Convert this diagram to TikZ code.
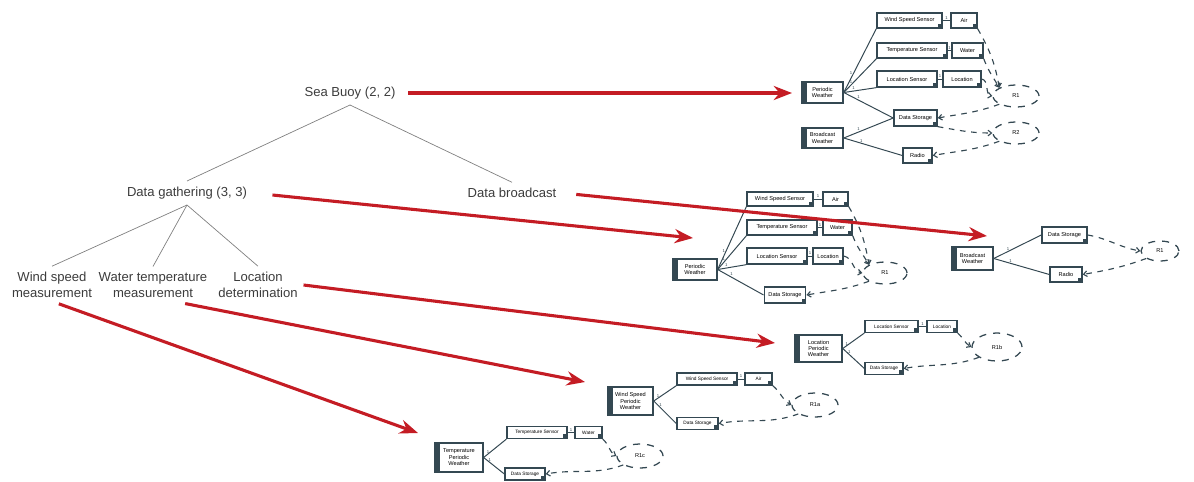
\documentclass[tikz,border=0pt]{standalone}
\usepackage{fontspec}
\setmainfont{Liberation Sans}
\usepackage{xcolor}
\usetikzlibrary{shapes.geometric}
\usetikzlibrary{positioning, arrows.meta}
\definecolor{buoyred}{RGB}{196,28,36}
\definecolor{boxline}{RGB}{52,72,82}
\definecolor{treegray}{RGB}{60,60,60}

\begin{document}
\begin{tikzpicture}[x=0.025cm, y=-0.025cm]
                % Define the styles for the task tree and the red mappings
                \tikzstyle{task}=[text=treegray, font=\fontsize{9.3}{11.5}\selectfont, align=center, inner sep=4pt];
                \tikzstyle{branch}=[draw=gray, line width=0.5pt];
                \tikzstyle{mapto}=[draw=buoyred, line width=2.2pt, -{Stealth[length=13pt, width=10pt]}];

                % Define the styles for the small component diagrams
                \tikzstyle{part}=[draw=boxline, line width=0.9pt, fill=white, font=\fontsize{4}{4.6}\selectfont, inner xsep=3pt, inner ysep=1pt, minimum height=0.38cm, path picture={\fill[boxline] ([shift={(-3pt,3pt)}]path picture bounding box.south east) rectangle (path picture bounding box.south east);}];
                \tikzstyle{partsm}=[part, minimum height=0.3cm, font=\fontsize{3.4}{4}\selectfont];
                \tikzstyle{owner}=[draw=boxline, line width=0.9pt, fill=white, font=\fontsize{4}{4.6}\selectfont, align=center, inner sep=1pt, path picture={\fill[boxline] (path picture bounding box.south west) rectangle ([xshift=3.5pt]path picture bounding box.north west);}];
                \tikzstyle{role}=[ellipse, draw=boxline, line width=0.9pt, dash pattern=on 5pt off 5pt, font=\fontsize{4}{4}\selectfont, inner sep=0pt];
                \tikzstyle{link}=[draw=boxline, line width=0.7pt];
                \tikzstyle{flow}=[draw=boxline, line width=0.8pt, dash pattern=on 4pt off 4pt];
                \tikzstyle{flowto}=[flow, -{Straight Barb[length=2.5pt, width=4pt]}];
                \tikzstyle{mult}=[font=\fontsize{3}{3}\selectfont, inner sep=0.5pt, text=boxline];

                \useasboundingbox (0,0) rectangle (1194,481);

                % The task tree
                \node[task] (buoy) at (350,93) {Sea Buoy (2, 2)};
                \node[task] (gather) at (187,193) {Data gathering (3, 3)};
                \node[task] (broadcast) at (512,193) {Data broadcast};
                \node[task] (wind) at (52,285) {Wind speed\\measurement};
                \node[task] (water) at (153,285) {Water temperature\\measurement};
                \node[task] (location) at (258,285) {Location\\determination};

                \draw[branch] (buoy.south) -- (gather.north);
                \draw[branch] (buoy.south) -- (broadcast.north);
                \draw[branch] (gather.south) -- (wind.north);
                \draw[branch] (gather.south) -- (water.north);
                \draw[branch] (gather.south) -- (location.north);

                % Diagram for the sea buoy (top right)
                \node[owner, minimum width=1.03cm, minimum height=0.53cm] (pwA) at (822.5,92.5) {Periodic\\Weather};
                \node[owner, minimum width=1.03cm, minimum height=0.5cm] (bwA) at (822.5,138) {Broadcast\\Weather};
                \node[part, minimum width=1.63cm] (wsA) at (909.5,20.5) {Wind Speed Sensor};
                \node[part, minimum width=0.65cm] (airA) at (964,20.5) {Air};
                \node[part, minimum width=1.75cm] (tsA) at (912,50.5) {Temperature Sensor};
                \node[part, minimum width=0.78cm] (waterA) at (967.5,50.5) {Water};
                \node[part, minimum width=1.5cm, minimum height=0.4cm] (lsA) at (907,79) {Location Sensor};
                \node[part, minimum width=0.95cm, minimum height=0.4cm] (locA) at (962,79) {Location};
                \node[part, minimum width=1.08cm, minimum height=0.4cm] (dsA) at (915.5,118) {Data Storage};
                \node[part, minimum width=0.73cm] (radA) at (917.5,155.5) {Radio};
                \node[role, minimum width=1.15cm, minimum height=0.55cm] (r1A) at (1016,96) {R1};
                \node[role, minimum width=1.15cm, minimum height=0.55cm] (r2A) at (1016,133) {R2};

                \draw[link] (pwA.east) -- node[mult, pos=0.3, left] {1} (wsA.south west);
                \draw[link] (pwA.east) -- node[mult, pos=0.3, left] {1} (tsA.south west);
                \draw[link] (pwA.east) -- node[mult, pos=0.3, above] {1} (lsA.south west);
                \draw[link] (pwA.east) -- node[mult, pos=0.3, above] {1} (dsA.west);
                \draw[link] (bwA.east) -- node[mult, pos=0.3, above] {1} (dsA.west);
                \draw[link] (bwA.east) -- node[mult, pos=0.3, above] {1} (radA.west);
                \draw[link] (wsA) -- node[mult, above] {1} (airA);
                \draw[link] (tsA) -- node[mult, above] {1} (waterA);
                \draw[link] (lsA) -- node[mult, above] {1} (locA);

                \draw[flowto] (airA.south east) to[out=-60, in=100] (r1A.north west);
                \draw[flowto] (waterA.south east) to[out=-70, in=120] (r1A.north west);
                \draw[flowto] (locA.east) to[out=-10, in=170] (r1A.west);
                \draw[flowto] (r1A.south west) to[out=200, in=10] (dsA.east);
                \draw[flowto] (dsA.south east) to[out=-10, in=180] (r2A.west);
                \draw[flowto] (r2A.south west) to[out=200, in=10] (radA.east);

                % Diagram for data gathering (middle)
                \node[owner, minimum width=1.1cm, minimum height=0.53cm] (pwB) at (695,269.5) {Periodic\\Weather};
                \node[part, minimum width=1.65cm, minimum height=0.35cm] (wsB) at (780,199) {Wind Speed Sensor};
                \node[part, minimum width=0.63cm, minimum height=0.35cm] (airB) at (835.5,199) {Air};
                \node[part, minimum width=1.75cm] (tsB) at (782,227.5) {Temperature Sensor};
                \node[part, minimum width=0.73cm] (waterB) at (837.5,227.5) {Water};
                \node[part, minimum width=1.5cm, minimum height=0.4cm] (lsB) at (777,256) {Location Sensor};
                \node[part, minimum width=0.75cm, minimum height=0.4cm] (locB) at (828,256) {Location};
                \node[part, minimum width=1cm, minimum height=0.4cm] (dsB) at (785,295) {Data Storage};
                \node[role, minimum width=1.1cm, minimum height=0.55cm] (r1B) at (885,273) {R1};

                \draw[link] (pwB.east) -- node[mult, pos=0.3, left] {1} (wsB.south west);
                \draw[link] (pwB.east) -- node[mult, pos=0.3, left] {1} (tsB.south west);
                \draw[link] (pwB.east) -- node[mult, pos=0.3, above] {1} (lsB.south west);
                \draw[link] (pwB.east) -- node[mult, pos=0.3, above] {1} (dsB.west);
                \draw[link] (wsB) -- node[mult, above] {1} (airB);
                \draw[link] (tsB) -- node[mult, above] {1} (waterB);
                \draw[link] (lsB) -- node[mult, above] {1} (locB);

                \draw[flowto] (airB.south east) to[out=-60, in=100] (r1B.north west);
                \draw[flowto] (waterB.south east) to[out=-70, in=120] (r1B.north west);
                \draw[flowto] (locB.east) to[out=-10, in=170] (r1B.west);
                \draw[flowto] (r1B.south west) to[out=200, in=10] (dsB.east);

                % Diagram for data broadcast (right)
                \node[owner, minimum width=1.03cm, minimum height=0.58cm] (bwC) at (972.5,258.5) {Broadcast\\Weather};
                \node[part, minimum width=1.13cm, minimum height=0.4cm] (dsC) at (1064.5,235) {Data Storage};
                \node[part, minimum width=0.8cm] (radC) at (1066,274.5) {Radio};
                \node[role, minimum width=0.95cm, minimum height=0.5cm] (r1C) at (1160,251) {R1};

                \draw[link] (bwC.east) -- node[mult, pos=0.3, above] {1} (dsC.west);
                \draw[link] (bwC.east) -- node[mult, pos=0.3, above] {1} (radC.west);
                \draw[flowto] (dsC.east) to[out=-10, in=170] (r1C.west);
                \draw[flowto] (r1C.south west) to[out=200, in=10] (radC.east);

                % Diagram for location determination
                \node[owner, minimum width=1.18cm, minimum height=0.68cm] (pwD) at (818.5,348.5) {Location\\Periodic\\Weather};
                \node[partsm, minimum width=1.33cm] (lsD) at (891.5,326.5) {Location Sensor};
                \node[partsm, minimum width=0.75cm] (locD) at (942,326.5) {Location};
                \node[partsm, minimum width=0.95cm] (dsD) at (884,368.5) {Data Storage};
                \node[role, minimum width=1.25cm, minimum height=0.7cm] (r1D) at (997,347) {R1b};

                \draw[link] (pwD.east) -- node[mult, pos=0.3, left] {1} (lsD.south west);
                \draw[link] (pwD.east) -- node[mult, pos=0.3, above] {1} (dsD.west);
                \draw[link] (lsD) -- node[mult, above] {1} (locD);
                \draw[flowto] (locD.south east) to[out=-40, in=150] (r1D.west);
                \draw[flowto] (r1D.south west) to[out=200, in=10] (dsD.east);

                % Diagram for wind speed measurement
                \node[owner, minimum width=1.13cm, minimum height=0.7cm] (pwE) at (630.5,401) {Wind Speed\\Periodic\\Weather};
                \node[partsm, minimum width=1.5cm] (wsE) at (707,379) {Wind Speed Sensor};
                \node[partsm, minimum width=0.68cm] (airE) at (758.5,379) {Air};
                \node[partsm, minimum width=1.03cm] (dsE) at (697.5,423.5) {Data Storage};
                \node[role, minimum width=1.15cm, minimum height=0.6cm] (r1E) at (815,405) {R1a};

                \draw[link] (pwE.east) -- node[mult, pos=0.3, left] {1} (wsE.south west);
                \draw[link] (pwE.east) -- node[mult, pos=0.3, above] {1} (dsE.west);
                \draw[link] (wsE) -- node[mult, above] {1} (airE);
                \draw[flowto] (airE.south east) to[out=-40, in=150] (r1E.west);
                \draw[flowto] (r1E.south west) to[out=200, in=10] (dsE.east);

                % Diagram for water temperature measurement
                \node[owner, minimum width=1.2cm, minimum height=0.73cm] (pwF) at (459,457.5) {Temperature\\Periodic\\Weather};
                \node[partsm, minimum width=1.5cm] (tsF) at (537,432.5) {Temperature Sensor};
                \node[partsm, minimum width=0.68cm] (waterF) at (588.5,432.5) {Water};
                \node[partsm, minimum width=1cm] (dsF) at (525,474) {Data Storage};
                \node[role, minimum width=1.15cm, minimum height=0.6cm] (r1F) at (640,456) {R1c};

                \draw[link] (pwF.east) -- node[mult, pos=0.3, left] {1} (tsF.south west);
                \draw[link] (pwF.east) -- node[mult, pos=0.3, above] {1} (dsF.west);
                \draw[link] (tsF) -- node[mult, above] {1} (waterF);
                \draw[flowto] (waterF.south east) to[out=-40, in=150] (r1F.west);
                \draw[flowto] (r1F.south west) to[out=200, in=10] (dsF.east);

                % Red arrows from the tasks to their diagrams
                \coordinate (tipA) at (792,93);
                \coordinate (tipB) at (693,238);
                \coordinate (tipC) at (987,236);
                \coordinate (tipD) at (775,343);
                \coordinate (tipE) at (585,382);
                \coordinate (tipF) at (418,433);
                \draw[mapto, shorten <=5pt] (buoy.east) -- (tipA);
                \draw[mapto, shorten <=14pt] (gather.east) -- (tipB);
                \draw[mapto, shorten <=10pt] (broadcast.east) -- (tipC);
                \draw[mapto] (location.east) -- (tipD);
                \draw[mapto] (water.-30) -- (tipE);
                \draw[mapto] (wind.-70) -- (tipF);
\end{tikzpicture}
\end{document}
